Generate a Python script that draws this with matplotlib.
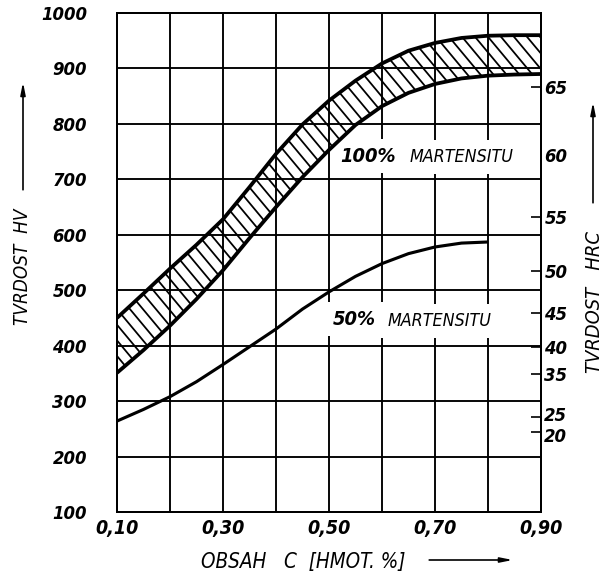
import numpy as np
import matplotlib.pyplot as plt
import matplotlib.transforms as mtransforms
from matplotlib.collections import LineCollection

plt.rcParams['font.family'] = 'DejaVu Sans'
plt.rcParams['font.style'] = 'italic'
plt.rcParams['font.stretch'] = 'condensed'

# carbon content [wt. %] and hardness HV
carbon = [0.10, 0.15, 0.20, 0.25, 0.30, 0.35, 0.40, 0.45, 0.50,
          0.55, 0.60, 0.65, 0.70, 0.75, 0.80, 0.85, 0.90]
hv_100_upper = [450, 494, 539, 582, 628, 686, 746, 799, 842,
                878, 909, 932, 946, 955, 959, 960, 960]
hv_100_lower = [351, 392, 436, 484, 536, 594, 650, 704, 753,
                798, 832, 856, 872, 882, 887, 889, 890]

carbon_50 = [0.10, 0.15, 0.20, 0.25, 0.30, 0.35, 0.40, 0.45,
             0.50, 0.55, 0.60, 0.65, 0.70, 0.75, 0.80]
hv_50 = [264, 285, 308, 335, 366, 398, 430, 466,
         497, 525, 548, 566, 578, 585, 587]

# HRC scale on the right side (label, HV position)
hrc_labels = ['65', '60', '55', '50', '45', '40', '35', '25', '20']
hrc_hv = [867, 744, 632, 535, 459, 398, 348, 272, 245]

x_ticks = [0.1, 0.2, 0.3, 0.4, 0.5, 0.6, 0.7, 0.8, 0.9]
x_labels = ['0,10', '', '0,30', '', '0,50', '', '0,70', '', '0,90']
y_ticks = [100, 200, 300, 400, 500, 600, 700, 800, 900, 1000]

dpi = 80
W, H = 603, 576
fig = plt.figure(figsize=(W / dpi, H / dpi), dpi=dpi)
ax_l, ax_r, ax_t, ax_b = 117, 541, 13, 512
ax = fig.add_axes([ax_l / W, 1 - ax_b / H, (ax_r - ax_l) / W, (ax_b - ax_t) / H])

ax.set_xlim(0.1, 0.9)
ax.set_ylim(100, 1000)
ax.set_xticks(x_ticks)
ax.set_xticklabels(x_labels, fontsize=17.5, fontweight='bold')
ax.set_yticks(y_ticks)
ax.set_yticklabels([str(v) for v in y_ticks], fontsize=16.5, fontweight='bold')
ax.tick_params(axis='x', length=0, pad=6)
ax.tick_params(axis='y', length=0, pad=27)
ax.grid(True, color='black', linewidth=1.7)
for s in ax.spines.values():
    s.set_linewidth(1.8)

# hatched band of 100 % martensite
band = ax.fill_between(carbon, hv_100_lower, hv_100_upper, facecolor='none',
                       edgecolor='none', linewidth=0)
# hatch lines: 13 px apart, about 50 deg, clipped to the band
aw, ah = ax_r - ax_l, ax_b - ax_t
step = 13 / aw
run = (ah / 1.2) / aw
segs = [[(x0, 1), (x0 + run, 0)] for x0 in np.arange(-run, 1 + step, step)]
hatch = LineCollection(segs, colors='black', linewidths=1.6,
                       transform=ax.transAxes, zorder=3)
ax.add_collection(hatch)
hatch.set_clip_path(band.get_paths()[0], ax.transData)

ax.plot(carbon, hv_100_upper, color='black', lw=3.4, zorder=4,
        solid_capstyle='butt')
ax.plot(carbon, hv_100_lower, color='black', lw=3.4, zorder=4,
        solid_capstyle='butt')

# 50 % martensite
ax.plot(carbon_50, hv_50, color='black', lw=2.8, zorder=4,
        solid_capstyle='butt')

box = dict(facecolor='white', edgecolor='none', pad=7)
ax.text(0.521, 742, '100%', fontsize=18, fontweight='bold', va='center',
        ha='left', bbox=box, zorder=2.5)
ax.text(0.652, 740, 'MARTENSITU', fontsize=16, va='center', ha='left',
        bbox=box, zorder=2.5)
ax.text(0.508, 448, '50%', fontsize=18, fontweight='bold', va='center',
        ha='left', bbox=box, zorder=2.5)
ax.text(0.611, 444, 'MARTENSITU', fontsize=16, va='center', ha='left',
        bbox=box, zorder=2.5)

# right HRC axis
ax2 = ax.twinx()
ax2.set_ylim(100, 1000)
ax2.set_yticks(hrc_hv)
ax2.set_yticklabels(hrc_labels, fontsize=16.5, fontweight='bold')
ax2.tick_params(axis='y', direction='in', length=9, width=1.5, pad=3)
for t, lab in zip(ax2.yaxis.get_major_ticks(), hrc_labels):
    if lab == '60':
        t.tick1line.set_visible(False)
        t.tick2line.set_visible(False)
    # 25 and 20 sit close together: nudge them apart a little
    if lab in ('25', '20'):
        dy = 3 if lab == '25' else -3
        off = mtransforms.ScaledTranslation(0, dy / dpi, fig.dpi_scale_trans)
        t.label2.set_transform(t.label2.get_transform() + off)
for s in ax2.spines.values():
    s.set_visible(False)

# axis titles with arrows
arrow = dict(arrowstyle='-|>,head_length=0.9,head_width=0.18', lw=1.5, color='black')
fig.text(23 / W, 1 - 267 / H, 'TVRDOST  HV', rotation=90, fontsize=17,
         ha='center', va='center')
ax.annotate('', xy=(23, H - 80), xytext=(23, H - 192),
            xycoords='figure pixels', textcoords='figure pixels', arrowprops=arrow)

fig.text(594 / W, 1 - 302 / H, 'TVRDOST   HRC', rotation=90, fontsize=18,
         ha='center', va='center')
ax.annotate('', xy=(593, H - 100), xytext=(593, H - 205),
            xycoords='figure pixels', textcoords='figure pixels', arrowprops=arrow)

fig.text(303 / W, 1 - 562 / H, 'OBSAH   C  [HMOT. %]', fontsize=18.5,
         ha='center', va='center')
ax.annotate('', xy=(515, H - 560), xytext=(427, H - 560),
            xycoords='figure pixels', textcoords='figure pixels', arrowprops=arrow)

fig.savefig('out.png', dpi=dpi)
